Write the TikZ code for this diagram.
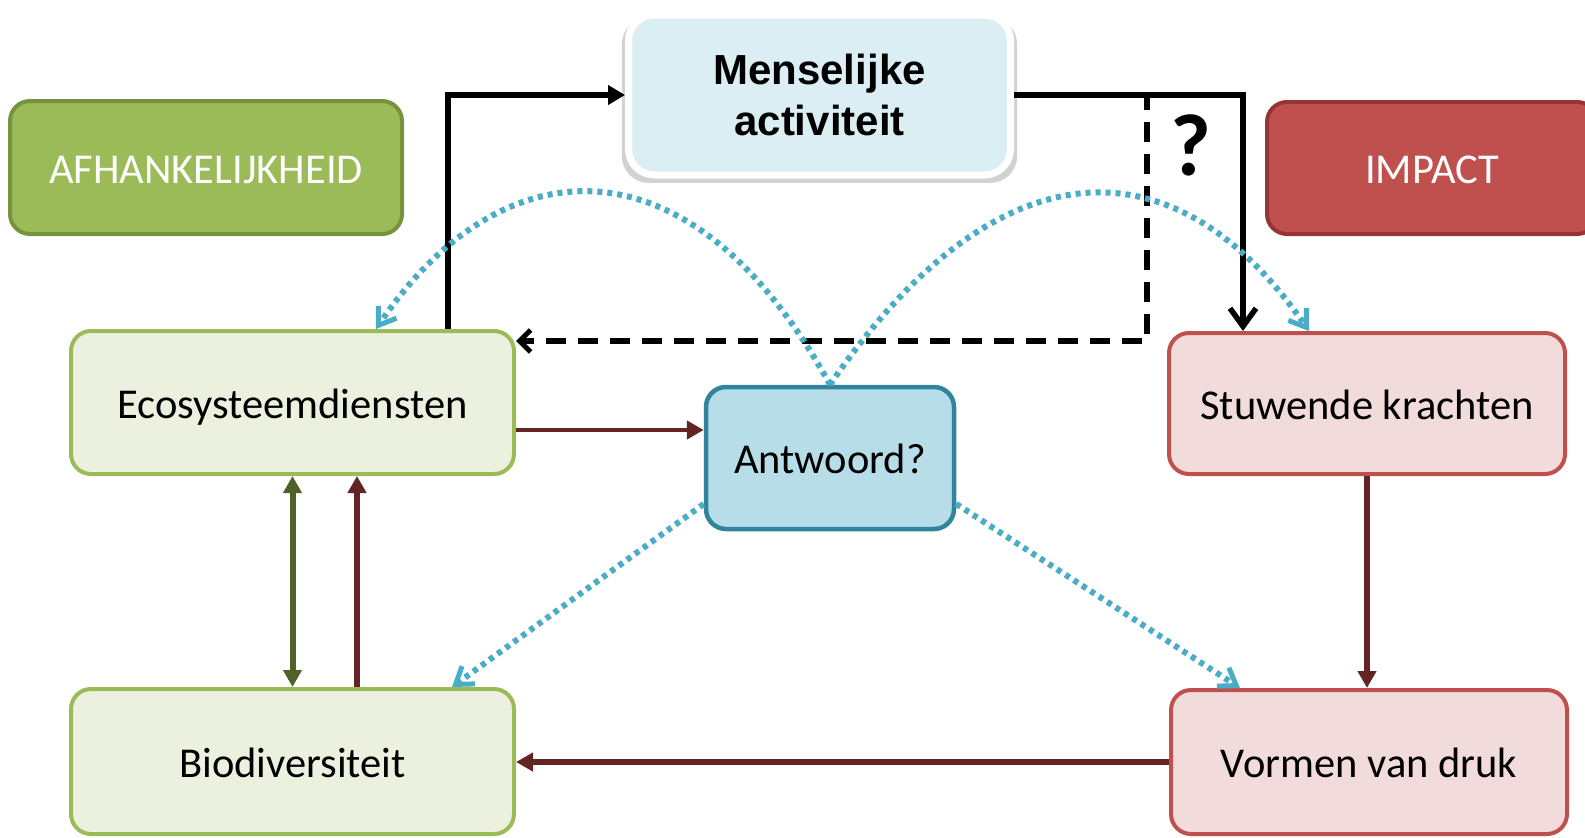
\documentclass[tikz,border=0pt]{standalone}
\usepackage{fontspec}
\setmainfont{Carlito}
\newfontfamily\arialfont{Liberation Sans}
\usetikzlibrary{arrows.meta,shadows}
\definecolor{gfill}{HTML}{9BBB59}
\definecolor{gborder}{HTML}{76923C}
\definecolor{lgfill}{HTML}{EBF1DE}
\definecolor{rfill}{HTML}{C0504D}
\definecolor{rborder}{HTML}{943634}
\definecolor{lrfill}{HTML}{F2DCDB}
\definecolor{mfill}{HTML}{DBEEF3}
\definecolor{afill}{HTML}{B7DEE8}
\definecolor{aborder}{HTML}{31849B}
\definecolor{bline}{HTML}{4BACC6}
\definecolor{dred}{HTML}{632523}
\definecolor{dgreen}{HTML}{4F6228}
\begin{document}
\begin{tikzpicture}[x=1pt,y=-1pt,
  box/.style={rounded corners=20pt, line width=4pt, align=center, inner sep=0pt,
    font=\fontsize{42.5}{50}\selectfont, text height=36pt, text depth=5pt},
  blk/.style={draw=black, line width=6pt},
  dsh/.style={draw=black, line width=5.5pt, dash pattern=on 20pt off 12pt},
  redarr/.style={draw=dred, line width=5pt, -{Triangle[length=17pt,width=18pt]}},
  bluedot/.style={draw=bline, line width=6pt, dash pattern=on 5pt off 5pt,
    -{Straight Barb[length=16pt,width=22pt,line width=5pt]}}]
\useasboundingbox (0,0) rectangle (1585,838);
\fill[white] (0,0) rectangle (1585,838);

% nodes
\node[box, fill=gfill, draw=gborder, text=white, minimum width=392pt, minimum height=133pt] (afh) at (206,167.5) {AFHANKELIJKHEID};
\node[box, fill=rfill, draw=rborder, text=white, minimum width=330pt, minimum height=132pt] (imp) at (1432,168) {IMPACT};
\node[rounded corners=26pt, line width=7pt, align=center, inner sep=0pt, fill=mfill, draw=white, minimum width=382pt, minimum height=160pt,
  font=\arialfont\bfseries\fontsize{42}{51}\selectfont,
  drop shadow={opacity=0.35, shadow xshift=0pt, shadow yshift=-5pt, shadow scale=1.035}] (mens) at (819.5,95) {Menselijke\\activiteit};
\node[box, fill=lgfill, draw=gfill, minimum width=443pt, minimum height=143pt] (eco) at (292.5,402.5) {Ecosysteemdiensten};
\node[box, fill=lgfill, draw=gfill, minimum width=443pt, minimum height=145pt] (bio) at (292.5,761.5) {Biodiversiteit};
\node[box, fill=lrfill, draw=rfill, minimum width=396pt, minimum height=141pt] (stu) at (1367,403.5) {Stuwende krachten};
\node[box, fill=lrfill, draw=rfill, minimum width=396pt, minimum height=144pt] (vor) at (1369,762) {Vormen van druk};
\node[box, fill=afill, draw=aborder, line width=4.5pt, minimum width=248pt, minimum height=142pt] (ant) at (830,458) {Antwoord?};
\node[font=\bfseries\fontsize{88}{88}\selectfont, inner sep=0pt] (q) at (1191,145) {?};

% helper coordinates
\coordinate (c1) at (448,0);
\coordinate (c2) at (1243,0);
\coordinate (dx) at (1147,341);
\coordinate (ry) at (0,430);
\coordinate (rx) at (357,0);
\coordinate (bl) at (376,0);
\coordinate (br) at (1309,0);
\coordinate (bx) at (452,0);
\coordinate (vx) at (1240,0);

% black connectors
\draw[dsh, -{Straight Barb[length=11pt,width=22pt,line width=5pt]}] (mens.east) -| (dx) -- (eco.east |- dx);
\draw[blk, -{Triangle[length=17pt,width=19pt]}] (c1 |- eco.north) |- (mens.west);
\draw[blk, -{Straight Barb[length=18pt,width=26pt,line width=5.5pt]}] (mens.east) -| (c2 |- stu.north);

% red / green connectors
\draw[redarr, line width=4.5pt] (eco.east |- ry) -- (ant.west |- ry);
\draw[draw=dgreen, line width=6pt, {Triangle[length=17pt,width=18pt]}-{Triangle[length=17pt,width=18pt]}] (eco.south) -- (eco.south |- bio.north);
\draw[redarr, line width=6pt] (rx |- bio.north) -- (rx |- eco.south);
\draw[redarr, line width=6pt] (stu.south) -- (stu.south |- vor.north);
\draw[redarr, line width=6pt] (vor.west) -- (bio.east |- vor.west);

% blue dotted connectors
\draw[bluedot] (ant.north) .. controls (690,130) and (500,145) .. (bl |- eco.north);
\draw[bluedot] (ant.north) .. controls (990,150) and (1170,130) .. (br |- stu.north);
\draw[bluedot] (ant.200) -- (bx |- bio.north);
\draw[bluedot] (ant.-20) -- (vx |- vor.north);
\end{tikzpicture}
\end{document}
